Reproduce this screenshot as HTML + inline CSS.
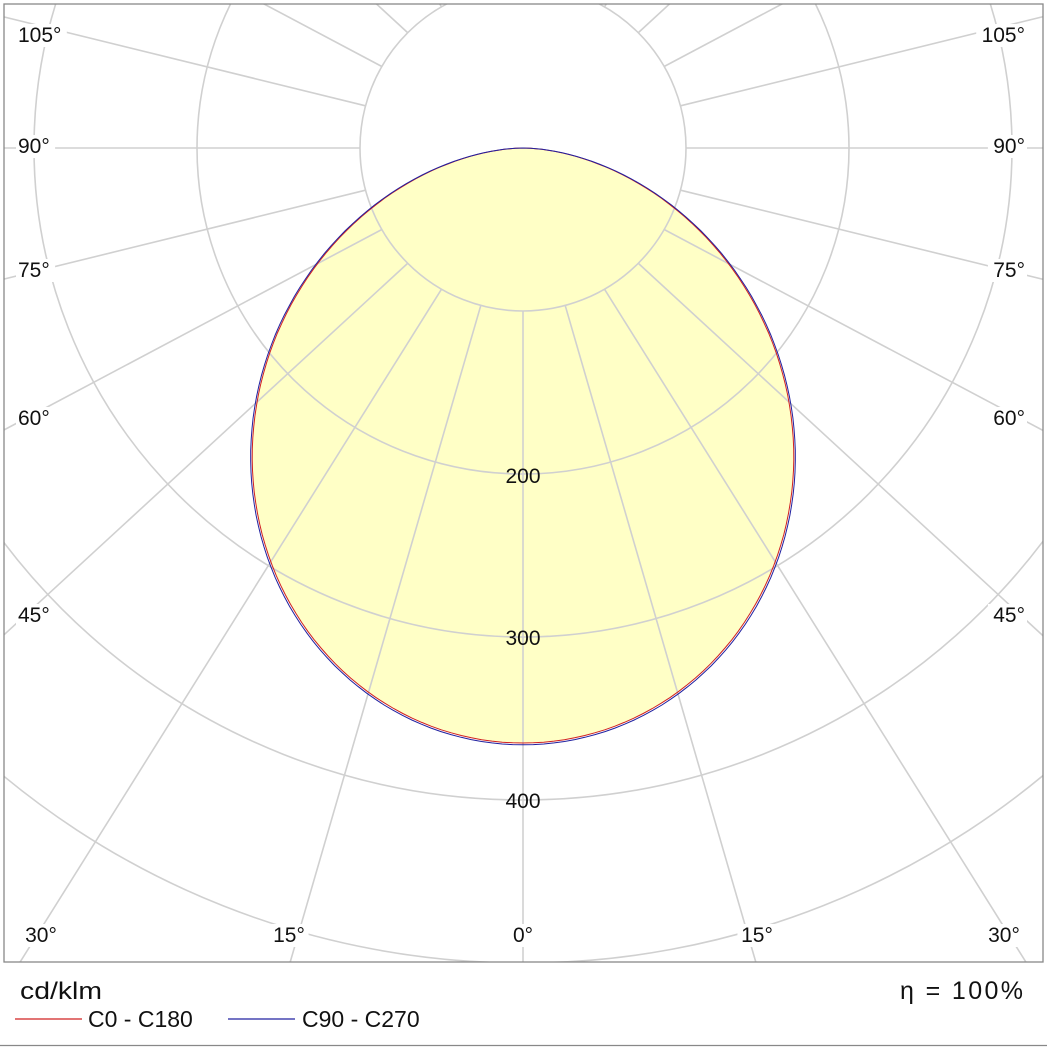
<!DOCTYPE html>
<html><head><meta charset="utf-8"><style>
html,body{margin:0;padding:0;background:#fff;overflow:hidden;width:1047px;height:1047px;}
svg{display:block;font-family:"Liberation Sans",Arial,sans-serif;}
</style></head><body>
<svg id="s" width="1047" height="1047" viewBox="0 0 1047 1047" xmlns="http://www.w3.org/2000/svg">
<defs><clipPath id="c"><rect x="4" y="4" width="1039" height="958"/></clipPath></defs>
<rect x="0" y="0" width="1047" height="1047" fill="#fff"/>
<g clip-path="url(#c)">
<path id="fill" fill="#ffffc6" stroke="none"/>
<g id="grid" stroke="#d0d0d0" stroke-width="1.6" fill="none"></g>
<path id="red" fill="none" stroke="#d02020" stroke-width="1"/>
<path id="blue" fill="none" stroke="#2020a0" stroke-width="1"/>
</g>
<rect x="4" y="4" width="1039" height="958" fill="none" stroke="#888" stroke-width="1.3"/>
<line x1="0" y1="1045.5" x2="1047" y2="1045.5" stroke="#888" stroke-width="1.3"/>
<g id="labels" font-size="21" fill="#111"></g>
<text x="20" y="999" font-size="24" fill="#111" textLength="82" lengthAdjust="spacingAndGlyphs">cd/klm</text>
<text x="900" y="999" font-size="25" fill="#111" textLength="123" lengthAdjust="spacing">η = 100%</text>
<line x1="15" y1="1019" x2="82" y2="1019" stroke="#d02020" stroke-width="1.2"/>
<text x="88" y="1027" font-size="23" fill="#111">C0 - C180</text>
<line x1="228" y1="1019" x2="295" y2="1019" stroke="#2020a0" stroke-width="1.2"/>
<text x="302" y="1027" font-size="23" fill="#111">C90 - C270</text>
</svg>
<script>
var cx=523,cy=148,NS="http://www.w3.org/2000/svg",D=Math.PI/180;
var g=document.getElementById('grid');
function el(p,t,a){var e=document.createElementNS(NS,t);for(var k in a)e.setAttribute(k,a[k]);p.appendChild(e);return e;}
for(var i=1;i<=7;i++)el(g,'circle',{cx:cx,cy:cy,r:163*i});
for(var a=0;a<360;a+=15){var t=a*D;var t2=(a+2.1*Math.sin(2*t))*D;
el(g,'line',{x1:cx+163*Math.sin(t),y1:cy+163*Math.cos(t),x2:cx+1400*Math.sin(t2),y2:cy+1400*Math.cos(t2)});}
function curve(k,s){var d='';for(var a=-90;a<=90;a+=1){var t=a*D;var r=595*s*Math.pow(Math.max(Math.cos(t),0),k);
d+=(a==-90?'M':'L')+(cx+r*Math.sin(t)).toFixed(1)+','+(cy+r*Math.cos(t)).toFixed(1);}return d+'Z';}
document.getElementById('fill').setAttribute('d',curve(1.3,1));
document.getElementById('red').setAttribute('d',curve(1.3,1));
document.getElementById('blue').setAttribute('d',curve(1.29,1.003));
var L=document.getElementById('labels');
function lab(x,y,s,anchor){var w=s.length*11.7+4;var x0=anchor=='end'?x-w+2:(anchor=='middle'?x-w/2:x-2);
el(L,'rect',{x:x0,y:y-18,width:w,height:23,fill:'#fff'});var e=el(L,'text',{x:x,y:y,'text-anchor':anchor});e.textContent=s;}
var side=[['105°',42],['90°',153],['75°',277],['60°',425],['45°',622]];
side.forEach(function(p){lab(18,p[1],p[0],'start');lab(1025,p[1],p[0],'end');});
lab(41,942,'30°','middle');lab(289,942,'15°','middle');lab(523,942,'0°','middle');lab(757,942,'15°','middle');lab(1004,942,'30°','middle');
[['200',483],['300',645],['400',808]].forEach(function(p){var e=el(L,'text',{x:523,y:p[1],'text-anchor':'middle'});e.textContent=p[0];});
</script>
</body></html>
